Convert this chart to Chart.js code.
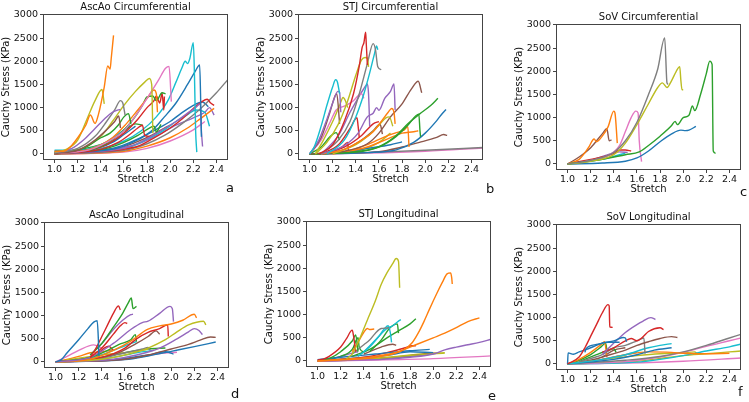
<!DOCTYPE html>
<html>
<head>
<meta charset="utf-8">
<script src="https://cdn.jsdelivr.net/npm/chart.js@4.4.0/dist/chart.umd.min.js"></script>
<style>
    body { margin: 0; background: #fff; width: 749px; height: 402px; position: relative; overflow: hidden; font-family: "DejaVu Sans", sans-serif; }
    .panel { position: absolute; }
    .tag { position: absolute; font-size: 13px; line-height: 13px; color: #111; }
</style>
</head>
<body>
<script>
// axis ticks
const stretchTicks = [1.0, 1.2, 1.4, 1.6, 1.8, 2.0, 2.2, 2.4];
const stressTicks = [0, 500, 1000, 1500, 2000, 2500, 3000];
const panelTitles = ["AscAo Circumferential", "STJ Circumferential", "SoV Circumferential",
                     "AscAo Longitudinal", "STJ Longitudinal", "SoV Longitudinal"];
const panelTags = ["a", "b", "c", "d", "e", "f"];

// each curve: [stretch, stress] pairs
const ascaoCircCurves = [
    [[1.0,60],[1.08,60],[1.15,190],[1.22,420],[1.27,620],[1.31,840],[1.35,660],[1.38,860],[1.43,1450],[1.46,1900],[1.48,1830],[1.49,2060],[1.51,2560]],
    [[1.0,40],[1.1,100],[1.2,300],[1.28,750],[1.35,1150],[1.41,1390],[1.43,1080]],
    [[1.0,30],[1.15,120],[1.25,300],[1.35,550],[1.45,800],[1.5,900],[1.55,950],[1.57,960]],
    [[1.0,20],[1.2,120],[1.35,380],[1.45,700],[1.52,950],[1.57,1150],[1.59,1100],[1.61,840]],
    [[1.0,10],[1.2,80],[1.35,300],[1.45,520],[1.52,700],[1.555,820],[1.57,560]],
    [[1.0,20],[1.25,120],[1.4,350],[1.48,450],[1.55,620],[1.6,800],[1.64,870],[1.66,650]],
    [[1.0,20],[1.25,130],[1.4,380],[1.5,700],[1.6,1050],[1.7,1350],[1.78,1550],[1.82,1630],[1.84,1500],[1.85,450]],
    [[1.0,10],[1.3,90],[1.45,250],[1.6,500],[1.7,820],[1.8,1200],[1.9,1600],[1.96,1850],[1.99,1890],[2.01,1130]],
    [[1.0,10],[1.3,100],[1.5,350],[1.62,650],[1.72,950],[1.8,1200],[1.86,1380],[1.88,1300],[1.89,900]],
    [[1.0,10],[1.35,120],[1.55,400],[1.68,750],[1.76,1050],[1.8,1230],[1.85,1250],[1.88,1150],[1.93,1320],[1.96,1300]],
    [[1.0,10],[1.4,150],[1.6,450],[1.72,750],[1.8,1000],[1.86,1150],[1.88,1250],[1.91,1100],[1.93,1310],[1.945,950],[1.95,1240]],
    [[1.0,5],[1.4,100],[1.55,250],[1.65,420],[1.72,560],[1.76,620],[1.78,400],[1.82,380]],
    [[1.0,5],[1.45,120],[1.6,250],[1.72,400],[1.82,560],[1.86,600],[1.88,480],[1.92,640]],
    [[1.0,30],[1.4,120],[1.6,280],[1.75,500],[1.88,800],[1.98,1150],[2.05,1550],[2.1,1850],[2.13,2000],[2.15,1950],[2.17,2060],[2.2,2400],[2.21,1700],[2.22,500],[2.23,40]],
    [[1.0,20],[1.5,100],[1.7,280],[1.85,520],[1.95,800],[2.05,1100],[2.15,1500],[2.22,1800],[2.255,1920],[2.265,1000],[2.27,370]],
    [[1.0,10],[1.6,120],[1.8,330],[1.95,550],[2.05,700],[2.15,880],[2.22,1000],[2.26,1080],[2.27,500],[2.28,160]],
    [[1.0,5],[1.7,150],[1.85,330],[2.0,560],[2.1,750],[2.2,980],[2.27,1120],[2.32,1180],[2.35,1100],[2.38,1050]],
    [[1.0,0],[1.6,80],[1.8,220],[1.95,400],[2.1,650],[2.25,950],[2.4,1320],[2.5,1610]],
    [[1.0,0],[1.6,60],[1.8,170],[2.0,350],[2.15,560],[2.25,740],[2.38,985]],
    [[1.0,20],[1.6,110],[1.8,320],[1.95,520],[2.05,700],[2.15,850],[2.22,950],[2.3,900],[2.34,600]],
    [[1.0,40],[1.5,120],[1.75,360],[1.9,560],[2.0,700],[2.08,850],[2.2,1050],[2.28,1120],[2.33,1020]],
    [[1.0,10],[1.7,200],[1.9,420],[2.05,620],[2.2,780],[2.3,900],[2.34,1000],[2.38,840]],
    [[1.0,0],[1.6,40],[1.8,120],[2.0,280],[2.2,520],[2.3,700]],
    [[1.0,5],[1.5,80],[1.7,250],[1.85,420],[1.95,560],[2.0,620]],
    [[1.0,60],[1.2,70],[1.4,150],[1.5,250],[1.6,420],[1.7,600]],
    [[1.0,80],[1.2,80],[1.4,200],[1.55,430],[1.65,620]],
    [[1.0,10],[1.45,250],[1.6,500],[1.7,650],[1.76,620]]
];
const ascaoCircColors = ["orange","olive","purple","gray","brown","green","olive","pink","orange","green",
    "red","red","green","cyan","blue","purple","red","gray","orange","cyan",
    "blue","purple","pink","brown","blue","cyan","green"];

const stjCircCurves = [
    [[1.08,0],[1.2,200],[1.3,700],[1.38,1300],[1.43,1900],[1.455,2300],[1.47,2400],[1.485,2630],[1.49,2400],[1.5,1920]],
    [[1.05,0],[1.15,250],[1.25,650],[1.33,1150],[1.4,1700],[1.45,2030],[1.48,2080],[1.5,2070],[1.51,1880]],
    [[1.1,0],[1.25,300],[1.35,700],[1.43,1300],[1.5,1950],[1.55,2380],[1.57,2250],[1.59,1880],[1.62,1820]],
    [[1.15,0],[1.3,300],[1.4,800],[1.47,1300],[1.52,1750],[1.56,2150],[1.58,2330],[1.59,2250]],
    [[1.0,0],[1.04,150],[1.1,600],[1.15,1050],[1.2,1450],[1.225,1600],[1.24,1560],[1.26,1300]],
    [[1.0,0],[1.08,300],[1.15,750],[1.2,1100],[1.245,1350],[1.26,1330],[1.27,900]],
    [[1.0,0],[1.1,350],[1.17,850],[1.22,1250],[1.235,1300],[1.26,650]],
    [[1.05,0],[1.12,300],[1.2,700],[1.26,1050],[1.29,1220],[1.31,1150],[1.33,1000]],
    [[1.0,0],[1.1,300],[1.18,700],[1.23,950],[1.3,1030],[1.38,1150],[1.43,1280],[1.45,1300],[1.47,1200]],
    [[1.1,0],[1.25,400],[1.35,900],[1.43,1250],[1.48,1450],[1.5,1510],[1.51,1300],[1.52,600]],
    [[1.1,0],[1.3,180],[1.42,450],[1.5,800],[1.55,880],[1.58,1000],[1.6,940],[1.65,1200],[1.7,1350],[1.73,1510],[1.74,950]],
    [[1.1,0],[1.3,100],[1.45,300],[1.55,480],[1.62,700],[1.68,900],[1.71,980],[1.73,900],[1.74,650]],
    [[1.2,0],[1.4,200],[1.52,420],[1.6,620],[1.66,780],[1.69,800],[1.72,600]],
    [[1.0,0],[1.3,60],[1.5,220],[1.6,450],[1.7,800],[1.8,1080],[1.88,1400],[1.94,1570],[1.97,1320]],
    [[1.1,0],[1.3,100],[1.45,300],[1.55,500],[1.61,640],[1.63,430]],
    [[1.0,0],[1.4,50],[1.6,160],[1.75,400],[1.85,650],[1.95,860],[2.05,1050],[2.11,1200]],
    [[1.0,0],[1.4,40],[1.6,150],[1.75,380],[1.85,620],[1.945,860],[1.955,500],[1.96,370]],
    [[1.0,0],[1.3,50],[1.5,200],[1.65,370],[1.75,460],[1.82,520],[1.85,590],[1.86,150]],
    [[1.2,0],[1.5,150],[1.65,300],[1.8,450],[1.9,480],[1.94,500]],
    [[1.0,0],[1.5,30],[1.75,90],[1.9,250],[2.0,450],[2.1,720],[2.15,880],[2.18,960]],
    [[1.0,0],[1.6,50],[1.8,150],[1.95,250],[2.1,360],[2.16,420],[2.19,400]],
    [[1.0,0],[1.5,30],[2.0,80],[2.5,140]],
    [[1.0,0],[1.5,20],[2.0,60],[2.5,130]],
    [[1.1,0],[1.25,200],[1.35,550],[1.41,780],[1.42,600],[1.43,350]],
    [[1.0,0],[1.1,150],[1.18,380],[1.23,460],[1.26,300]],
    [[1.15,0],[1.28,150],[1.33,250],[1.335,80]],
    [[1.0,0],[1.3,40],[1.5,120],[1.7,200],[1.8,260]],
    [[1.0,0],[1.4,60],[1.6,250],[1.7,450]],
    [[1.1,0],[1.3,150],[1.45,400],[1.55,650],[1.6,700]]
];
const stjCircColors = ["red","olive","gray","cyan","cyan","purple","brown","olive","pink","purple",
    "purple","orange","olive","brown","brown","green","green","orange","orange","blue",
    "brown","gray","pink","red","green","red","blue","olive","red"];

const sovCircCurves = [
    [[1.0,0],[1.2,80],[1.4,250],[1.5,500],[1.6,900],[1.7,1500],[1.78,2050],[1.84,2720],[1.86,1750],[1.87,1720]],
    [[1.0,0],[1.2,60],[1.4,200],[1.5,450],[1.6,850],[1.7,1300],[1.78,1650],[1.82,1750],[1.86,1650],[1.9,1800],[1.94,2000],[1.97,2100],[1.98,1800],[1.99,1600],[2.0,1600]],
    [[1.0,0],[1.3,100],[1.5,200],[1.62,260],[1.7,400],[1.8,600],[1.9,830],[1.93,920],[1.95,850],[2.0,1000],[2.05,1050],[2.08,1250],[2.1,1150],[2.15,1500],[2.2,1950],[2.23,2220],[2.25,2150],[2.26,280],[2.28,230]],
    [[1.0,0],[1.3,20],[1.5,60],[1.6,130],[1.7,280],[1.8,480],[1.9,650],[1.98,730],[2.02,720],[2.05,730],[2.11,810]],
    [[1.15,50],[1.35,180],[1.45,400],[1.5,700],[1.55,1000],[1.59,1140],[1.61,1100],[1.62,500],[1.64,50]],
    [[1.0,0],[1.1,100],[1.18,350],[1.23,540],[1.25,480],[1.3,600],[1.35,800],[1.4,1140],[1.41,1100],[1.43,450]],
    [[1.0,0],[1.1,150],[1.2,350],[1.3,650],[1.34,760],[1.36,500],[1.38,520]],
    [[1.0,0],[1.2,100],[1.3,150],[1.4,230],[1.45,300],[1.5,300],[1.55,280]],
    [[1.0,0],[1.2,80],[1.35,200],[1.45,260],[1.52,250]],
    [[1.0,0],[1.3,100],[1.45,200],[1.5,230]]
];
const sovCircColors = ["gray","olive","green","blue","pink","orange","brown","red","purple","cyan"];

const ascaoLongCurves = [
    [[1.0,0],[1.05,50],[1.1,200],[1.2,480],[1.28,720],[1.33,860],[1.36,890],[1.37,500],[1.375,130]],
    [[1.3,100],[1.35,300],[1.4,550],[1.45,800],[1.5,1050],[1.545,1210],[1.56,1120]],
    [[1.3,150],[1.4,400],[1.5,750],[1.58,1050],[1.63,1280],[1.655,1380],[1.67,1150],[1.7,1200]],
    [[1.3,150],[1.4,400],[1.5,700],[1.58,900],[1.65,1020],[1.67,1030]],
    [[1.3,100],[1.4,300],[1.5,600],[1.56,780],[1.6,850],[1.62,830]],
    [[1.0,0],[1.3,100],[1.5,400],[1.65,700],[1.75,850],[1.8,880],[1.9,1050],[1.99,1200],[2.01,1150],[2.02,870]],
    [[1.0,0],[1.3,60],[1.5,250],[1.65,450],[1.79,700],[1.9,780],[2.0,820],[2.1,900],[2.2,1030],[2.22,950]],
    [[1.0,0],[1.4,60],[1.6,150],[1.8,300],[1.95,480],[2.05,650],[2.15,800],[2.28,880],[2.3,800]],
    [[1.0,0],[1.5,60],[1.7,150],[1.9,300],[2.05,500],[2.15,650],[2.2,720],[2.24,680],[2.27,590]],
    [[1.0,0],[1.6,60],[1.8,150],[2.0,280],[2.15,380],[2.25,470],[2.34,540],[2.385,530]],
    [[1.0,0],[1.6,50],[1.8,130],[2.0,230],[2.2,330],[2.385,430]],
    [[1.0,0],[1.4,100],[1.6,300],[1.7,500],[1.8,640],[1.9,720],[1.97,800],[1.975,550]],
    [[1.0,0],[1.3,100],[1.45,250],[1.55,380],[1.65,480],[1.69,590],[1.7,440]],
    [[1.0,0],[1.3,80],[1.5,250],[1.6,350],[1.7,440]],
    [[1.0,0],[1.1,120],[1.2,250],[1.33,370],[1.4,300]],
    [[1.0,0],[1.2,50],[1.35,150],[1.42,300],[1.46,340],[1.5,250]],
    [[1.0,0],[1.4,80],[1.6,200],[1.75,280],[1.8,315],[1.82,250]],
    [[1.0,0],[1.5,150],[1.7,400],[1.8,550],[1.87,670],[1.9,600]],
    [[1.0,0],[1.5,50],[1.8,150],[1.95,220],[2.02,170]],
    [[1.0,0],[1.6,60],[1.9,180],[2.05,210]],
    [[1.0,0],[1.2,80],[1.4,150],[1.6,200],[1.75,250],[1.8,280]],
    [[1.0,0],[1.3,60],[1.6,200],[1.8,280],[1.95,300]],
    [[1.0,0],[1.2,120],[1.3,200],[1.4,220],[1.5,260]],
    [[1.0,0],[1.5,100],[1.7,200],[1.85,250]]
];
const ascaoLongColors = ["blue","red","green","purple","red","purple","orange","olive","purple","brown",
    "blue","red","green","cyan","pink","red","gray","brown","blue","pink",
    "olive","green","orange","cyan"];

const stjLongCurves = [
    [[1.25,50],[1.3,150],[1.35,400],[1.43,880],[1.5,1300],[1.55,1650],[1.6,1900],[1.65,2100],[1.68,2210],[1.7,2150],[1.71,1580]],
    [[1.0,0],[1.4,50],[1.6,120],[1.75,250],[1.82,400],[1.87,600],[1.92,850],[1.97,1130],[2.03,1450],[2.08,1700],[2.12,1880],[2.15,1900],[2.16,1800],[2.165,1660]],
    [[1.0,0],[1.5,100],[1.7,200],[1.85,350],[2.0,500],[2.1,600],[2.2,720],[2.3,850],[2.4,930]],
    [[1.0,0],[1.6,40],[1.8,80],[2.0,150],[2.1,240],[2.2,300],[2.3,350],[2.4,400],[2.5,470]],
    [[1.0,0],[1.5,20],[2.0,50],[2.5,110]],
    [[1.0,20],[1.05,40],[1.1,100],[1.2,300],[1.25,480],[1.3,665],[1.31,560],[1.33,200]],
    [[1.0,0],[1.1,50],[1.2,200],[1.3,430],[1.33,560],[1.35,200]],
    [[1.3,200],[1.35,400],[1.4,620],[1.43,700],[1.45,680],[1.49,690]],
    [[1.3,150],[1.35,250],[1.4,350],[1.45,450],[1.5,600],[1.55,700],[1.6,710],[1.62,720]],
    [[1.35,100],[1.45,300],[1.52,500],[1.58,700],[1.61,760],[1.63,600],[1.64,400]],
    [[1.4,200],[1.5,450],[1.6,700],[1.65,760],[1.7,860],[1.72,890]],
    [[1.45,200],[1.55,450],[1.62,700],[1.66,780],[1.69,800],[1.7,600]],
    [[1.3,100],[1.45,250],[1.6,500],[1.7,650],[1.8,800],[1.85,910]],
    [[1.4,150],[1.55,300],[1.65,360],[1.68,340]],
    [[1.0,30],[1.2,80],[1.5,150],[1.8,220],[1.97,250]],
    [[1.0,0],[1.4,80],[1.6,180],[1.75,280],[1.82,330],[1.85,330]],
    [[1.0,0],[1.5,50],[1.8,120],[2.1,170]],
    [[1.0,0],[1.3,60],[1.6,120],[1.8,200],[2.0,180]],
    [[1.0,0],[1.2,100],[1.3,250],[1.35,500],[1.36,300],[1.4,200],[1.42,220]],
    [[1.0,0],[1.2,100],[1.3,170],[1.35,200]],
    [[1.0,0],[1.5,40],[1.8,100],[2.0,150]],
    [[1.0,0],[1.6,60],[1.9,140],[2.05,170]],
    [[1.0,0],[1.3,20],[1.6,80],[1.9,150],[2.1,180]]
];
const stjLongColors = ["olive","orange","orange","purple","pink","red","green","orange","gray","cyan",
    "cyan","green","green","brown","blue","red","olive","blue","green","purple",
    "gray","brown","olive"];

const sovLongCurves = [
    [[1.0,0],[1.1,150],[1.15,350],[1.2,600],[1.25,850],[1.3,1100],[1.35,1280],[1.36,1250],[1.365,800],[1.39,790]],
    [[1.0,0],[1.005,240],[1.05,210],[1.1,260],[1.2,350],[1.3,450],[1.4,500],[1.48,570],[1.5,560],[1.51,480]],
    [[1.15,250],[1.16,330],[1.25,420],[1.35,470],[1.45,470]],
    [[1.3,200],[1.4,450],[1.5,680],[1.6,850],[1.65,920],[1.72,1000],[1.76,960]],
    [[1.3,250],[1.4,350],[1.5,500],[1.55,550],[1.6,500],[1.65,580],[1.7,700],[1.8,780],[1.83,740]],
    [[1.3,150],[1.5,300],[1.6,400],[1.7,480],[1.8,550],[1.9,590],[1.95,570]],
    [[1.1,50],[1.3,200],[1.4,350],[1.5,400],[1.6,500],[1.66,560],[1.67,220]],
    [[1.0,0],[1.3,100],[1.5,200],[1.7,350],[1.8,400],[1.9,440]],
    [[1.0,0],[1.4,100],[1.6,200],[1.75,300],[1.9,350]],
    [[1.0,0],[1.1,100],[1.2,250],[1.3,440],[1.32,480],[1.34,150]],
    [[1.0,0],[1.1,80],[1.2,200],[1.28,350],[1.33,445],[1.34,300]],
    [[1.1,50],[1.25,200],[1.35,300],[1.4,330],[1.42,250]],
    [[1.0,0],[1.3,100],[1.5,200],[1.7,260],[1.9,250],[2.0,230],[2.2,220],[2.4,230]],
    [[1.0,0],[1.5,80],[1.8,160],[2.0,260],[2.2,400],[2.4,560],[2.5,640]],
    [[1.0,0],[1.5,50],[1.8,150],[2.0,250],[2.2,380],[2.4,500],[2.5,560]],
    [[1.0,0],[1.6,40],[1.8,100],[2.0,180],[2.2,280],[2.4,370],[2.5,430]],
    [[1.0,0],[1.6,60],[1.8,120],[2.0,180],[2.2,220],[2.4,260],[2.5,280]],
    [[1.0,0],[1.5,20],[2.0,60],[2.5,130]],
    [[1.3,100],[1.6,180],[1.8,220],[2.0,240],[2.1,260],[2.12,220]],
    [[1.0,0],[1.3,150],[1.4,300],[1.5,350]],
    [[1.0,0],[1.3,100],[1.5,200],[1.6,250]]
];
const sovLongColors = ["red","blue","blue","purple","red","brown","gray","cyan","blue","orange",
    "green","green","orange","gray","pink","cyan","olive","pink","olive","brown","purple"];

const palette = {
    blue: "#1f77b4", orange: "#ff7f0e", green: "#2ca02c", red: "#d62728", purple: "#9467bd",
    brown: "#8c564b", pink: "#e377c2", gray: "#7f7f7f", olive: "#bcbd22", cyan: "#17becf"
};

// layout: top-left corner of each plot box, in page pixels
const plotCorners = [[43, 14], [298, 14], [556, 24], [44, 222], [306, 221], [556, 224]];
const tagCorners = [[226, 181], [486, 182], [740, 185], [231, 387], [488, 389], [738, 385]];
const plotW = 185, plotH = 146, axisW = 43, axisH = 25, titleH = 14, padR = 4;
const fontFamily = "'DejaVu Sans', sans-serif";
const textColor = "#111";
const frameColor = "#444";

const framePlugin = {
    id: "frame",
    afterDraw(chart) {
        const a = chart.chartArea;
        const ctx = chart.ctx;
        ctx.save();
        ctx.strokeStyle = frameColor;
        ctx.lineWidth = 1;
        ctx.strokeRect(Math.round(a.left) + 0.5, Math.round(a.top) + 0.5,
                       Math.round(a.right - a.left) - 1, Math.round(a.bottom - a.top) - 1);
        ctx.restore();
    }
};

function makePanel(i, curves, colors) {
    const [left, top] = plotCorners[i];
    const canvas = document.createElement("canvas");
    canvas.className = "panel";
    canvas.width = axisW + plotW + padR;
    canvas.height = titleH + plotH + axisH;
    canvas.style.left = (left - axisW) + "px";
    canvas.style.top = (top - titleH) + "px";
    document.body.appendChild(canvas);

    const tag = document.createElement("div");
    tag.className = "tag";
    tag.textContent = panelTags[i];
    tag.style.left = tagCorners[i][0] + "px";
    tag.style.top = tagCorners[i][1] + "px";
    document.body.appendChild(tag);

    const datasets = curves.map((c, k) => ({
        data: c.map(p => ({ x: p[0], y: p[1] })),
        borderColor: palette[colors[k]],
        borderWidth: 1.4,
        pointRadius: 0,
        fill: false,
        cubicInterpolationMode: "monotone"
    }));

    new Chart(canvas, {
        type: "line",
        data: { datasets: datasets },
        options: {
            responsive: false,
            animation: false,
            events: [],
            layout: { padding: { left: 0, right: padR, top: 0, bottom: 0 } },
            plugins: {
                legend: { display: false },
                tooltip: { enabled: false },
                title: {
                    display: true,
                    text: panelTitles[i],
                    fullSize: false,
                    color: textColor,
                    font: { family: fontFamily, size: 10, weight: "normal" },
                    padding: { top: 1, bottom: 1 }
                }
            },
            scales: {
                x: {
                    type: "linear",
                    min: 0.9,
                    max: 2.5,
                    afterBuildTicks: s => { s.ticks = stretchTicks.map(v => ({ value: v })); },
                    afterFit: s => { s.height = axisH; },
                    ticks: {
                        callback: v => v.toFixed(1),
                        color: textColor,
                        font: { family: fontFamily, size: 9.5 },
                        padding: 1,
                        maxRotation: 0,
                        autoSkip: false
                    },
                    grid: { display: true, drawOnChartArea: false, drawTicks: true, tickLength: 3, color: frameColor },
                    border: { display: false },
                    title: { display: true, text: "Stretch", color: textColor, font: { family: fontFamily, size: 10 }, padding: 0 }
                },
                y: {
                    type: "linear",
                    min: -130,
                    max: 3020,
                    afterBuildTicks: s => { s.ticks = stressTicks.map(v => ({ value: v })); },
                    afterFit: s => { s.width = axisW; },
                    ticks: {
                        callback: v => String(v),
                        color: textColor,
                        font: { family: fontFamily, size: 9.5 },
                        padding: 2,
                        autoSkip: false
                    },
                    grid: { display: true, drawOnChartArea: false, drawTicks: true, tickLength: 3, color: frameColor },
                    border: { display: false },
                    title: { display: true, text: "Cauchy Stress (KPa)", color: textColor, font: { family: fontFamily, size: 10 }, padding: 0 }
                }
            }
        },
        plugins: [framePlugin]
    });
}

makePanel(0, ascaoCircCurves, ascaoCircColors);
makePanel(1, stjCircCurves, stjCircColors);
makePanel(2, sovCircCurves, sovCircColors);
makePanel(3, ascaoLongCurves, ascaoLongColors);
makePanel(4, stjLongCurves, stjLongColors);
makePanel(5, sovLongCurves, sovLongColors);
</script>
</body>
</html>
